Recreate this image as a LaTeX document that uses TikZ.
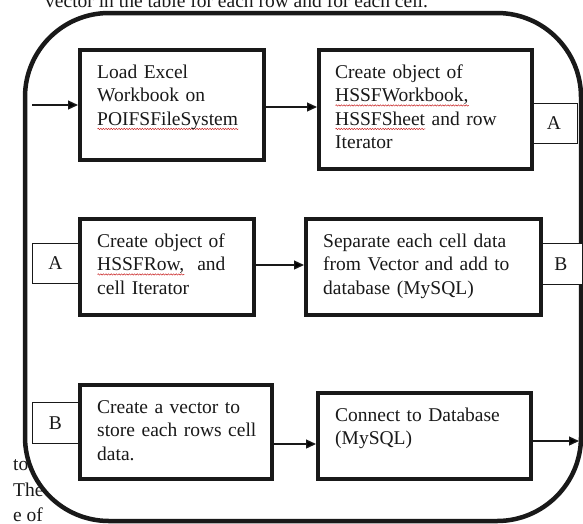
\documentclass[tikz,border=0pt]{standalone}
\usepackage{fontspec}
\setmainfont{Liberation Serif}
\usetikzlibrary{arrows.meta,decorations.pathmorphing}
\definecolor{ink}{RGB}{25,25,25}
\definecolor{spell}{RGB}{200,30,30}
\newsavebox\spellbox
\newlength\spellwd
\newcommand\spellmark[1]{\leavevmode\sbox\spellbox{#1}\setlength\spellwd{\wd\spellbox}\rlap{\tikz[baseline=0pt]\draw[spell,line width=0.45pt,decorate,decoration={snake,amplitude=0.7pt,segment length=2.6pt}] (0pt,-3.8pt) -- (\spellwd,-3.8pt);}\usebox\spellbox}
\begin{document}
\begin{tikzpicture}[x=1pt,y=-1pt,
  box/.style={draw=ink, line width=4pt, fill=white, inner sep=0pt, anchor=north west},
  connbox/.style={draw=ink, line width=0.9pt, fill=white, inner sep=0pt, anchor=north west, text=ink, font=\fontsize{19.5}{23.5}\selectfont},
  txt/.style={anchor=north west, inner sep=0pt, align=left, text width=230pt, text=ink, font=\fontsize{19.5}{23.5}\selectfont, execute at begin node=\strut},
  arr/.style={draw=ink, line width=1.3pt, -{Triangle[length=10pt,width=9pt]}},
  frag/.style={anchor=base west, inner sep=0pt, text=ink, font=\fontsize{19.5}{23.5}\selectfont}]
\useasboundingbox (0,0) rectangle (583,523);
% fragments of the surrounding page
\node[frag] (top) at (45,7) {vector in the table for each row and for each cell.};
\node[frag] (f1) at (13,470) {to};
\node[frag] (f2) at (13,496) {The};
\node[frag] (f3) at (13,521) {e of};
% big frame
\draw[ink, line width=4.5pt, fill=white, rounded corners=84pt] (25,13) rectangle (581,521);
% connector tags
\node[connbox, minimum width=47pt, minimum height=40pt] (A1) at (530,103) {A};
\node[connbox, minimum width=46pt, minimum height=40pt] (A2) at (32,243) {A};
\node[connbox, minimum width=43pt, minimum height=41pt] (B1) at (539,243) {B};
\node[connbox, minimum width=46pt, minimum height=41pt] (B2) at (32,402) {B};
% process boxes
\node[box, minimum width=184pt, minimum height=110pt] (b1) at (78,48) {};
\node[box, minimum width=213pt, minimum height=119pt] (b2) at (317,48) {};
\node[box, minimum width=174pt, minimum height=96pt] (b3) at (78,217) {};
\node[box, minimum width=235pt, minimum height=96pt] (b4) at (304,217) {};
\node[box, minimum width=192pt, minimum height=94pt] (b5) at (78,383) {};
\node[box, minimum width=213pt, minimum height=86pt] (b6) at (316,391) {};
% texts
\node[txt] (t1) at (97,61.5) {Load Excel\\Workbook on\\\spellmark{POIFSFileSystem}};
\node[txt] (t2) at (335,61.5) {Create object of\\\spellmark{HSSFWorkbook,}\\\spellmark{HSSFSheet} and row\\Iterator};
\node[txt] (t3) at (97,230.5) {Create object of\\\spellmark{HSSFRow,}\ \ and\\cell Iterator};
\node[txt] (t4) at (323,230.5) {Separate each cell data\\from Vector and add to\\database (MySQL)};
\node[txt] (t5) at (97,396.5) {Create a vector to\\store each rows cell\\data.};
\node[txt] (t6) at (335,404.5) {Connect to Database\\(MySQL)};
% connectors
\coordinate (in) at (32,105);
\coordinate (out) at (579,441);
\draw[arr] (in) -- (in -| b1.west);
\draw[arr] ([yshift=-2pt]b1.east) -- ([yshift=-2pt]b1.east -| b2.west);
\draw[arr] ([yshift=2pt]b3.east) -- ([yshift=2pt]b3.east -| b4.west);
\draw[arr] ([yshift=-12pt]b5.east) -- ([yshift=-12pt]b5.east -| b6.west);
\draw[arr] (b6.east |- out) -- (out);
\end{tikzpicture}
\end{document}
